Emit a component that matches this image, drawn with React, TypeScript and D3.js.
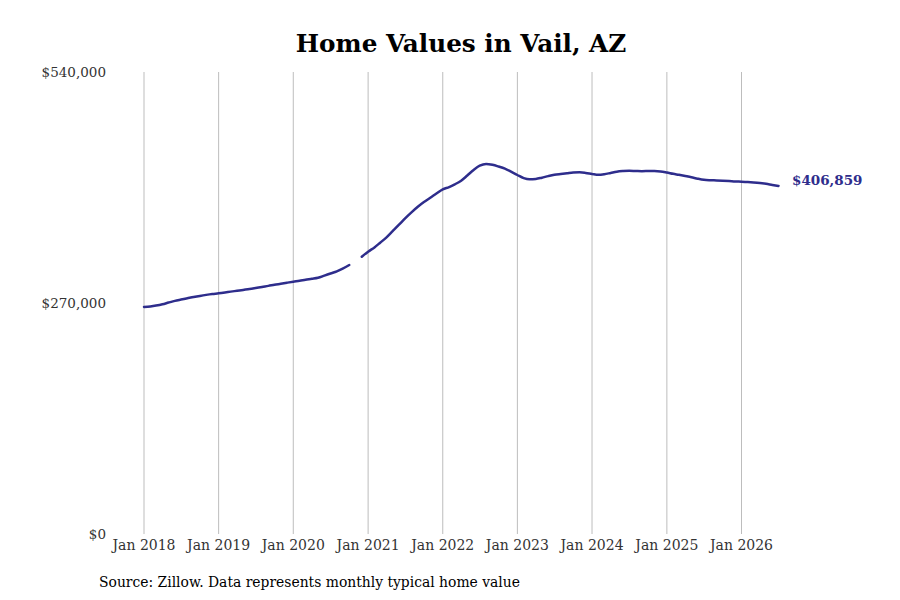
import React from "react";
import * as d3 from "d3";

const title = "Home Values in Vail, AZ";
const source = "Source: Zillow. Data represents monthly typical home value";
const startYear = 2018;
// Monthly typical home values (thousands of $), Jan 2018 – Jul 2026; null = missing month
const values2018 = [265.3, 266, 267, 268.5, 270.5, 272.5, 274, 275.5, 277, 278.3, 279.5, 280.5];
const values2019 = [281.3, 282.3, 283.3, 284.3, 285.3, 286.3, 287.5, 288.8, 290, 291.3, 292.5, 293.7];
const values2020 = [294.9, 296, 297.2, 298.3, 299.5, 302, 304.5, 307, 310.5, 314.4, null, 324.1];
const values2021 = [330, 335, 340.5, 346.8, 354, 361.5, 369, 376, 382.5, 388, 393, 398];
const values2022 = [402.9, 405.5, 408.7, 413, 419, 425.5, 430.5, 432.5, 431.5, 429.5, 427, 423.5];
const values2023 = [419.6, 416, 414.6, 415, 416.5, 418.3, 419.8, 420.8, 421.7, 422.5, 422.7, 422];
const values2024 = [420.8, 419.8, 420.5, 422, 423.5, 424.2, 424.5, 424.3, 424.1, 424.2, 424.3, 423.8];
const values2025 = [422.5, 421, 419.8, 418.4, 417, 415.3, 414, 413.5, 413.3, 413, 412.6, 412.1];
const values2026 = [411.8, 411.4, 410.9, 410.2, 409.3, 408, 406.859];
const yTicks = [0, 270000, 540000];
const xTickYears = [2018, 2019, 2020, 2021, 2022, 2023, 2024, 2025, 2026];

const allValues = [
  ...values2018, ...values2019, ...values2020, ...values2021, ...values2022,
  ...values2023, ...values2024, ...values2025, ...values2026,
];
const data = allValues.map((v, i) => ({
  date: new Date(startYear, i, 1),
  value: v === null ? null : v * 1000,
}));

const FONT = "'DejaVu Serif', serif";
const LINE = "#2e2d8c";

export default function App() {
  const x = d3.scaleTime().domain([new Date(2018, 0, 1), new Date(2026, 0, 1)]).range([144, 741.5]);
  const y = d3.scaleLinear().domain([0, 540000]).range([534, 72]);
  const line = d3
    .line<{ date: Date; value: number | null }>()
    .defined((d) => d.value !== null)
    .x((d) => x(d.date))
    .y((d) => y(d.value as number))
    .curve(d3.curveMonotoneX);
  const last = data[data.length - 1];
  const fmt = d3.format("$,.0f");
  return (
    <svg width={900} height={600} style={{ position: "absolute", left: 0, top: 0, background: "#fff" }}>
      <rect width={900} height={600} fill="#fff" />
      <text x={461} y={52} textAnchor="middle" fontFamily={FONT} fontWeight="bold" fontSize={24.7} fill="#000">
        {title}
      </text>
      {xTickYears.map((yr) => (
        <g key={yr}>
          <line x1={x(new Date(yr, 0, 1))} x2={x(new Date(yr, 0, 1))} y1={72} y2={534} stroke="#bdbdbd" strokeWidth={1} />
          <text x={x(new Date(yr, 0, 1))} y={550} textAnchor="middle" fontFamily={FONT} fontSize={14} fill="#333">
            {`Jan ${yr}`}
          </text>
        </g>
      ))}
      {yTicks.map((t) => (
        <text key={t} x={106} y={y(t) + 5} textAnchor="end" fontFamily={FONT} fontSize={13.5} fill="#333">
          {fmt(t)}
        </text>
      ))}
      <path d={line(data) || ""} fill="none" stroke={LINE} strokeWidth={2.5} strokeLinejoin="round" strokeLinecap="round" />
      <text x={792} y={y(last.value as number) - 6} dy="0.35em" fontFamily={FONT} fontWeight="bold" fontSize={13.5} fill={LINE}>
        {fmt(last.value as number)}
      </text>
      <text x={99} y={587} fontFamily={FONT} fontSize={13.9} fill="#000">
        {source}
      </text>
    </svg>
  );
}
